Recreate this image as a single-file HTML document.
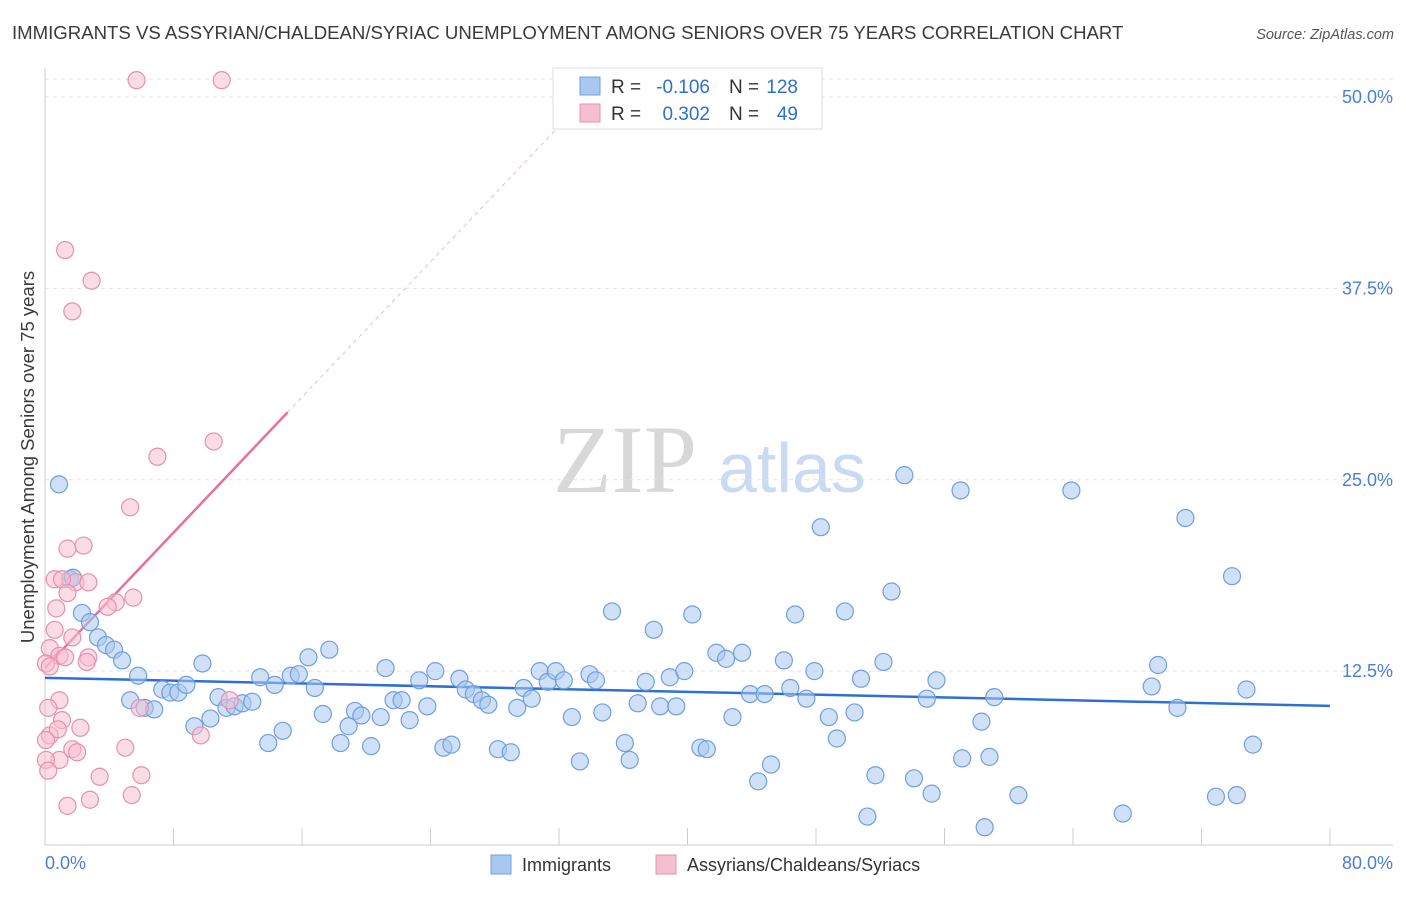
<!DOCTYPE html>
<html><head><meta charset="utf-8"><style>
body{margin:0;background:#fff;font-family:"Liberation Sans",sans-serif;}
</style></head><body>
<svg id="chart" width="1406" height="892" xmlns="http://www.w3.org/2000/svg" font-family="Liberation Sans, sans-serif">
<text x="12" y="39" font-size="18.6" fill="#3a3a3a">IMMIGRANTS VS ASSYRIAN/CHALDEAN/SYRIAC UNEMPLOYMENT AMONG SENIORS OVER 75 YEARS CORRELATION CHART</text>
<text x="1394" y="39" font-size="14.5" fill="#555" text-anchor="end" font-style="italic">Source: ZipAtlas.com</text>
<g>
<text x="553" y="492" font-size="96" font-family="Liberation Serif, serif" fill="#d8d8d8">ZIP</text>
<text x="718" y="492" font-size="70" fill="#c9daf2">atlas</text>
</g>
<g id="grid"></g>
<g id="axes"></g>
<g id="trends"></g>
<g id="points"></g>
<text transform="translate(34,457) rotate(-90)" font-size="18.5" fill="#3a3a3a" text-anchor="middle">Unemployment Among Seniors over 75 years</text>
<g>
<rect x="553" y="68" width="269" height="61" fill="#fff" stroke="#ddd"/>
<rect x="580" y="77" width="20" height="18" fill="#a9c8f0" stroke="#6f9fe0"/>
<rect x="580" y="104" width="20" height="18" fill="#f5bfd0" stroke="#e890ac"/>
<text x="611" y="93" font-size="19" fill="#333">R =</text>
<text x="710" y="93" font-size="19" fill="#2e6fd6" text-anchor="end">-0.106</text>
<text x="729" y="93" font-size="19" fill="#333">N =</text>
<text x="798" y="93" font-size="19" fill="#2e6fd6" text-anchor="end">128</text>
<text x="611" y="120" font-size="19" fill="#333">R =</text>
<text x="710" y="120" font-size="19" fill="#2e6fd6" text-anchor="end">0.302</text>
<text x="729" y="120" font-size="19" fill="#333">N =</text>
<text x="798" y="120" font-size="19" fill="#2e6fd6" text-anchor="end">49</text>
</g>
<g>
<rect x="491" y="855" width="20" height="19" fill="#a9c8f0" stroke="#6f9fe0"/>
<text x="522" y="871" font-size="18" fill="#333">Immigrants</text>
<rect x="656" y="855" width="20" height="19" fill="#f5bfd0" stroke="#e890ac"/>
<text x="687" y="871" font-size="18" fill="#333">Assyrians/Chaldeans/Syriacs</text>
</g>
</svg>
<script>
const blueX=[0.87,1.56,1.74,2.3,2.8,3.3,3.8,4.3,4.8,5.8,5.3,6.2,6.8,7.3,7.8,8.3,8.8,9.3,9.8,10.3,10.8,11.3,11.8,12.3,12.9,13.4,13.9,14.3,14.8,15.3,15.8,16.4,16.8,17.3,17.7,18.4,18.9,19.3,19.7,20.3,20.9,21.2,21.7,22.2,22.7,23.3,23.8,24.3,24.8,25.3,25.8,26.2,26.7,27.2,27.6,28.2,29.0,29.4,29.8,30.3,30.8,31.3,31.8,32.3,32.8,33.3,33.9,34.3,34.7,35.3,36.1,36.4,36.9,37.4,37.9,38.3,38.9,39.3,39.8,40.3,40.8,41.2,41.8,42.4,42.8,43.4,43.9,44.4,44.8,45.2,46.0,46.4,46.7,47.4,47.9,48.3,48.8,49.3,49.8,50.4,50.8,51.2,51.7,52.2,52.7,53.5,54.1,54.9,55.2,55.5,57.0,57.1,58.3,58.5,58.8,59.1,60.6,63.9,67.1,68.9,69.3,70.5,71.0,72.9,73.9,74.2,74.8,75.2];
const blueY=[24.7,18.5,18.6,16.3,15.7,14.7,14.2,13.9,13.2,12.2,10.6,10.1,10.0,11.3,11.1,11.1,11.6,8.9,13.0,9.4,10.8,10.1,10.2,10.4,10.5,12.1,7.8,11.6,8.6,12.2,12.3,13.4,11.4,9.7,13.9,7.8,8.9,9.9,9.6,7.6,9.5,12.7,10.6,10.6,9.3,11.9,10.2,12.5,7.5,7.7,12.0,11.3,11.0,10.6,10.3,7.4,7.2,10.1,11.4,10.7,12.5,11.8,12.5,11.9,9.5,6.6,12.3,11.9,9.8,16.4,7.8,6.7,10.4,11.8,15.2,10.2,12.1,10.2,12.5,16.2,7.5,7.4,13.7,13.3,9.5,13.7,11.0,5.3,11.0,6.4,13.2,11.4,16.2,10.7,12.5,21.9,9.5,8.1,16.4,9.8,12.0,3.0,5.7,13.1,17.7,25.3,5.5,10.7,4.5,11.9,24.3,6.8,9.2,2.3,6.9,10.8,4.4,24.3,3.2,11.5,12.9,10.1,22.5,4.3,18.7,4.4,11.3,7.7];
const pinkX=[5.7,11.0,1.25,2.9,1.7,10.5,7.0,5.3,1.4,2.4,0.6,1.9,1.06,2.7,5.5,4.4,3.9,0.7,1.4,1.7,0.6,0.3,0.9,2.7,2.6,1.25,0.06,0.3,0.9,5.9,11.5,1.06,0.2,2.2,0.3,0.8,0.06,1.7,0.9,5.0,3.4,6.0,2.8,5.4,1.4,9.7,2.0,0.06,0.2];
const pinkY=[51.1,51.1,40.0,38.0,36.0,27.5,26.5,23.2,20.5,20.7,18.5,18.3,18.5,18.3,17.3,17.0,16.7,16.6,17.6,14.7,15.2,14.0,13.5,13.4,13.1,13.4,13.0,12.8,10.6,10.1,10.6,9.3,10.1,8.8,8.3,8.7,8.0,7.4,6.7,7.5,5.6,5.7,4.1,4.4,3.7,8.3,7.2,6.7,6.0];
const blueTrend=[12.06,10.23];
const pinkTrend=[12.7,29.4];
const pinkTrendEndX=15.1;
const yTicks=[12.5,25,37.5,50];
const xTicks=[0,8,16,24,32,40,48,56,64,72,80];
const NS="http://www.w3.org/2000/svg";
const X=v=>45+v/80*1285;
const Y=v=>862.5-v/50*765.5;
function mk(p,t,a){const e=document.createElementNS(NS,t);for(const k in a)e.setAttribute(k,a[k]);p.appendChild(e);return e;}
const grid=document.getElementById('grid'),axes=document.getElementById('axes'),tr=document.getElementById('trends'),pts=document.getElementById('points');
yTicks.forEach(t=>{
 const l=mk(grid,'line',{x1:45,x2:1393,y1:Y(t),y2:Y(t),stroke:'#e2e2e2','stroke-dasharray':'4,4'});
 
 
 const tx=mk(axes,'text',{x:1393,y:Y(t)+6,'font-size':18,fill:'#4a7fd4','text-anchor':'end'});
 tx.textContent=t.toFixed(1)+'%';
 
 
});
const tl=mk(grid,'line',{x1:45,x2:1393,y1:79,y2:79,stroke:'#e2e2e2','stroke-dasharray':'4,4'});


const ya=mk(axes,'line',{x1:45,x2:45,y1:68,y2:845,stroke:'#ccc'});


const xa=mk(axes,'line',{x1:45,x2:1393,y1:845,y2:845,stroke:'#ccc'});


xTicks.forEach(t=>{
 const l=mk(axes,'line',{x1:X(t),x2:X(t),y1:828,y2:845,stroke:'#ccc'});
 
 
});
[[0,'start',45],[80,'end',1393]].forEach(([v,a,x])=>{
 const tx=mk(axes,'text',{x:x,y:869,'font-size':18,fill:'#4a7fd4','text-anchor':a});
 tx.textContent=v.toFixed(1)+'%';
 
 
});
const slope=(pinkTrend[1]-pinkTrend[0])/pinkTrendEndX;
const xEnd=(50-pinkTrend[0])/slope;
const pd=mk(tr,'line',{x1:X(pinkTrendEndX),y1:Y(pinkTrend[1]),x2:X(xEnd),y2:Y(50),stroke:'#f0b8c8','stroke-dasharray':'4,4','stroke-width':1});


function dots(xs,ys,fill,stroke,name){
 xs.forEach((x,i)=>{
  const c=mk(pts,'circle',{cx:X(x),cy:Y(ys[i]),r:8.5,fill:fill,'fill-opacity':0.55,stroke:stroke,'stroke-width':1.2});
  
  
 });
}
dots(blueX,blueY,'#a9c8f0','#6f9fe0','immigrant-point');
dots(pinkX,pinkY,'#f5bfd0','#e890ac','assyrian-point');
const bt=mk(tr,'line',{x1:X(0),y1:Y(blueTrend[0]),x2:X(80),y2:Y(blueTrend[1]),stroke:'#2e6fd6','stroke-width':2.5});


const pt=mk(tr,'line',{x1:X(0),y1:Y(pinkTrend[0]),x2:X(pinkTrendEndX),y2:Y(pinkTrend[1]),stroke:'#e8709a','stroke-width':2.5});


</script>
</body></html>
